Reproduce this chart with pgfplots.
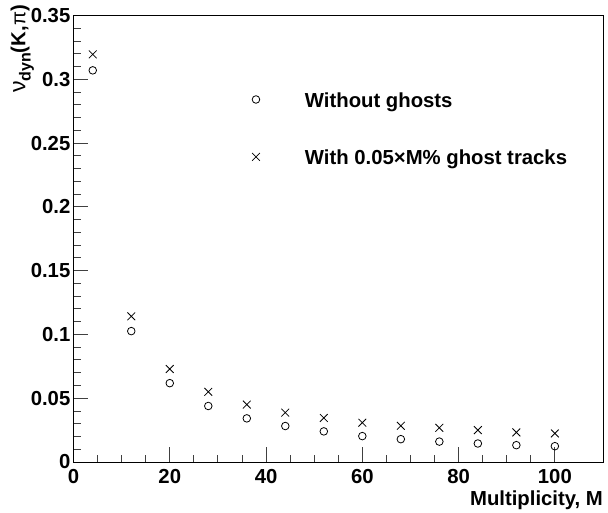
\documentclass[border=0pt]{standalone}
\usepackage{fontspec}
\setmainfont{Liberation Sans}
\usepackage{pgfplots}
\pgfplotsset{compat=1.18}
\begin{document}
\fontsize{20.3}{24}\selectfont\bfseries
\begin{tikzpicture}
\useasboundingbox (0,0) rectangle (608pt,512pt);
\begin{axis}[
  at={(73.5pt,50pt)}, anchor=south west,
  scale only axis, width=529.5pt, height=446.5pt,
  xmin=0, xmax=110, ymin=0, ymax=0.35,
  axis line style={line width=1pt},
  tick style={line width=0.9pt, black!75},
  tick align=inside, xtick pos=bottom, ytick pos=left,
  xtick={0,20,40,60,80,100}, xticklabels={0,20,40,60,80,100},
  ytick={0,0.05,0.1,0.15,0.2,0.25,0.3,0.35},
  yticklabels={0,0.05,0.1,0.15,0.2,0.25,0.3,\raisebox{-3pt}{0.35}},
  minor x tick num=3, minor y tick num=4,
  major tick length=15pt, minor tick length=7.5pt,
  xticklabel style={anchor=base, yshift=-21pt, inner sep=0pt},
  yticklabel style={anchor=east, xshift=-3pt, inner sep=0pt},
  xlabel={Multiplicity, M},
  xlabel style={at={([yshift=-43pt]rel axis cs:1,0)}, anchor=base east, inner sep=0pt},
  ylabel={{\mdseries\fontsize{23}{24}\selectfont ν}\raisebox{-0.25em}{\fontsize{16}{17}\selectfont dyn}(K,{\mdseries π})},
  ylabel style={at={([xshift=-48pt,yshift=10.5pt]rel axis cs:0,1)}, anchor=base east, inner sep=0pt},
  legend style={at={(axis cs:36.87,0.2920)}, anchor=north west, draw=none, fill=none,
    inner sep=0pt, outer sep=0pt, row sep=36.5pt, nodes={inner sep=0pt}},
  legend cell align=left,
  legend image code/.code={\path[draw=none,fill=none] (-5pt,0pt) rectangle (49pt,12pt); \draw plot coordinates {(0pt,2pt)};},
]
\addplot[only marks, mark=o, mark size=3.8pt, line width=0.8pt, black] coordinates {
 (4,0.307) (12,0.1026) (20,0.0618) (28,0.0439) (36,0.0342) (44,0.0282) (52,0.024)
 (60,0.0203) (68,0.0179) (76,0.016) (84,0.0145) (92,0.0132) (100,0.0124)};
\addlegendentry{Without ghosts}
\addplot[only marks, mark=x, mark size=5.5pt, line width=0.8pt, black] coordinates {
 (4,0.3195) (12,0.1142) (20,0.0729) (28,0.055) (36,0.045) (44,0.0387) (52,0.0345)
 (60,0.0308) (68,0.0284) (76,0.0268) (84,0.025) (92,0.0232) (100,0.0224)};
\addlegendentry{With 0.05×M\% ghost tracks}
\end{axis}
\end{tikzpicture}
\end{document}
